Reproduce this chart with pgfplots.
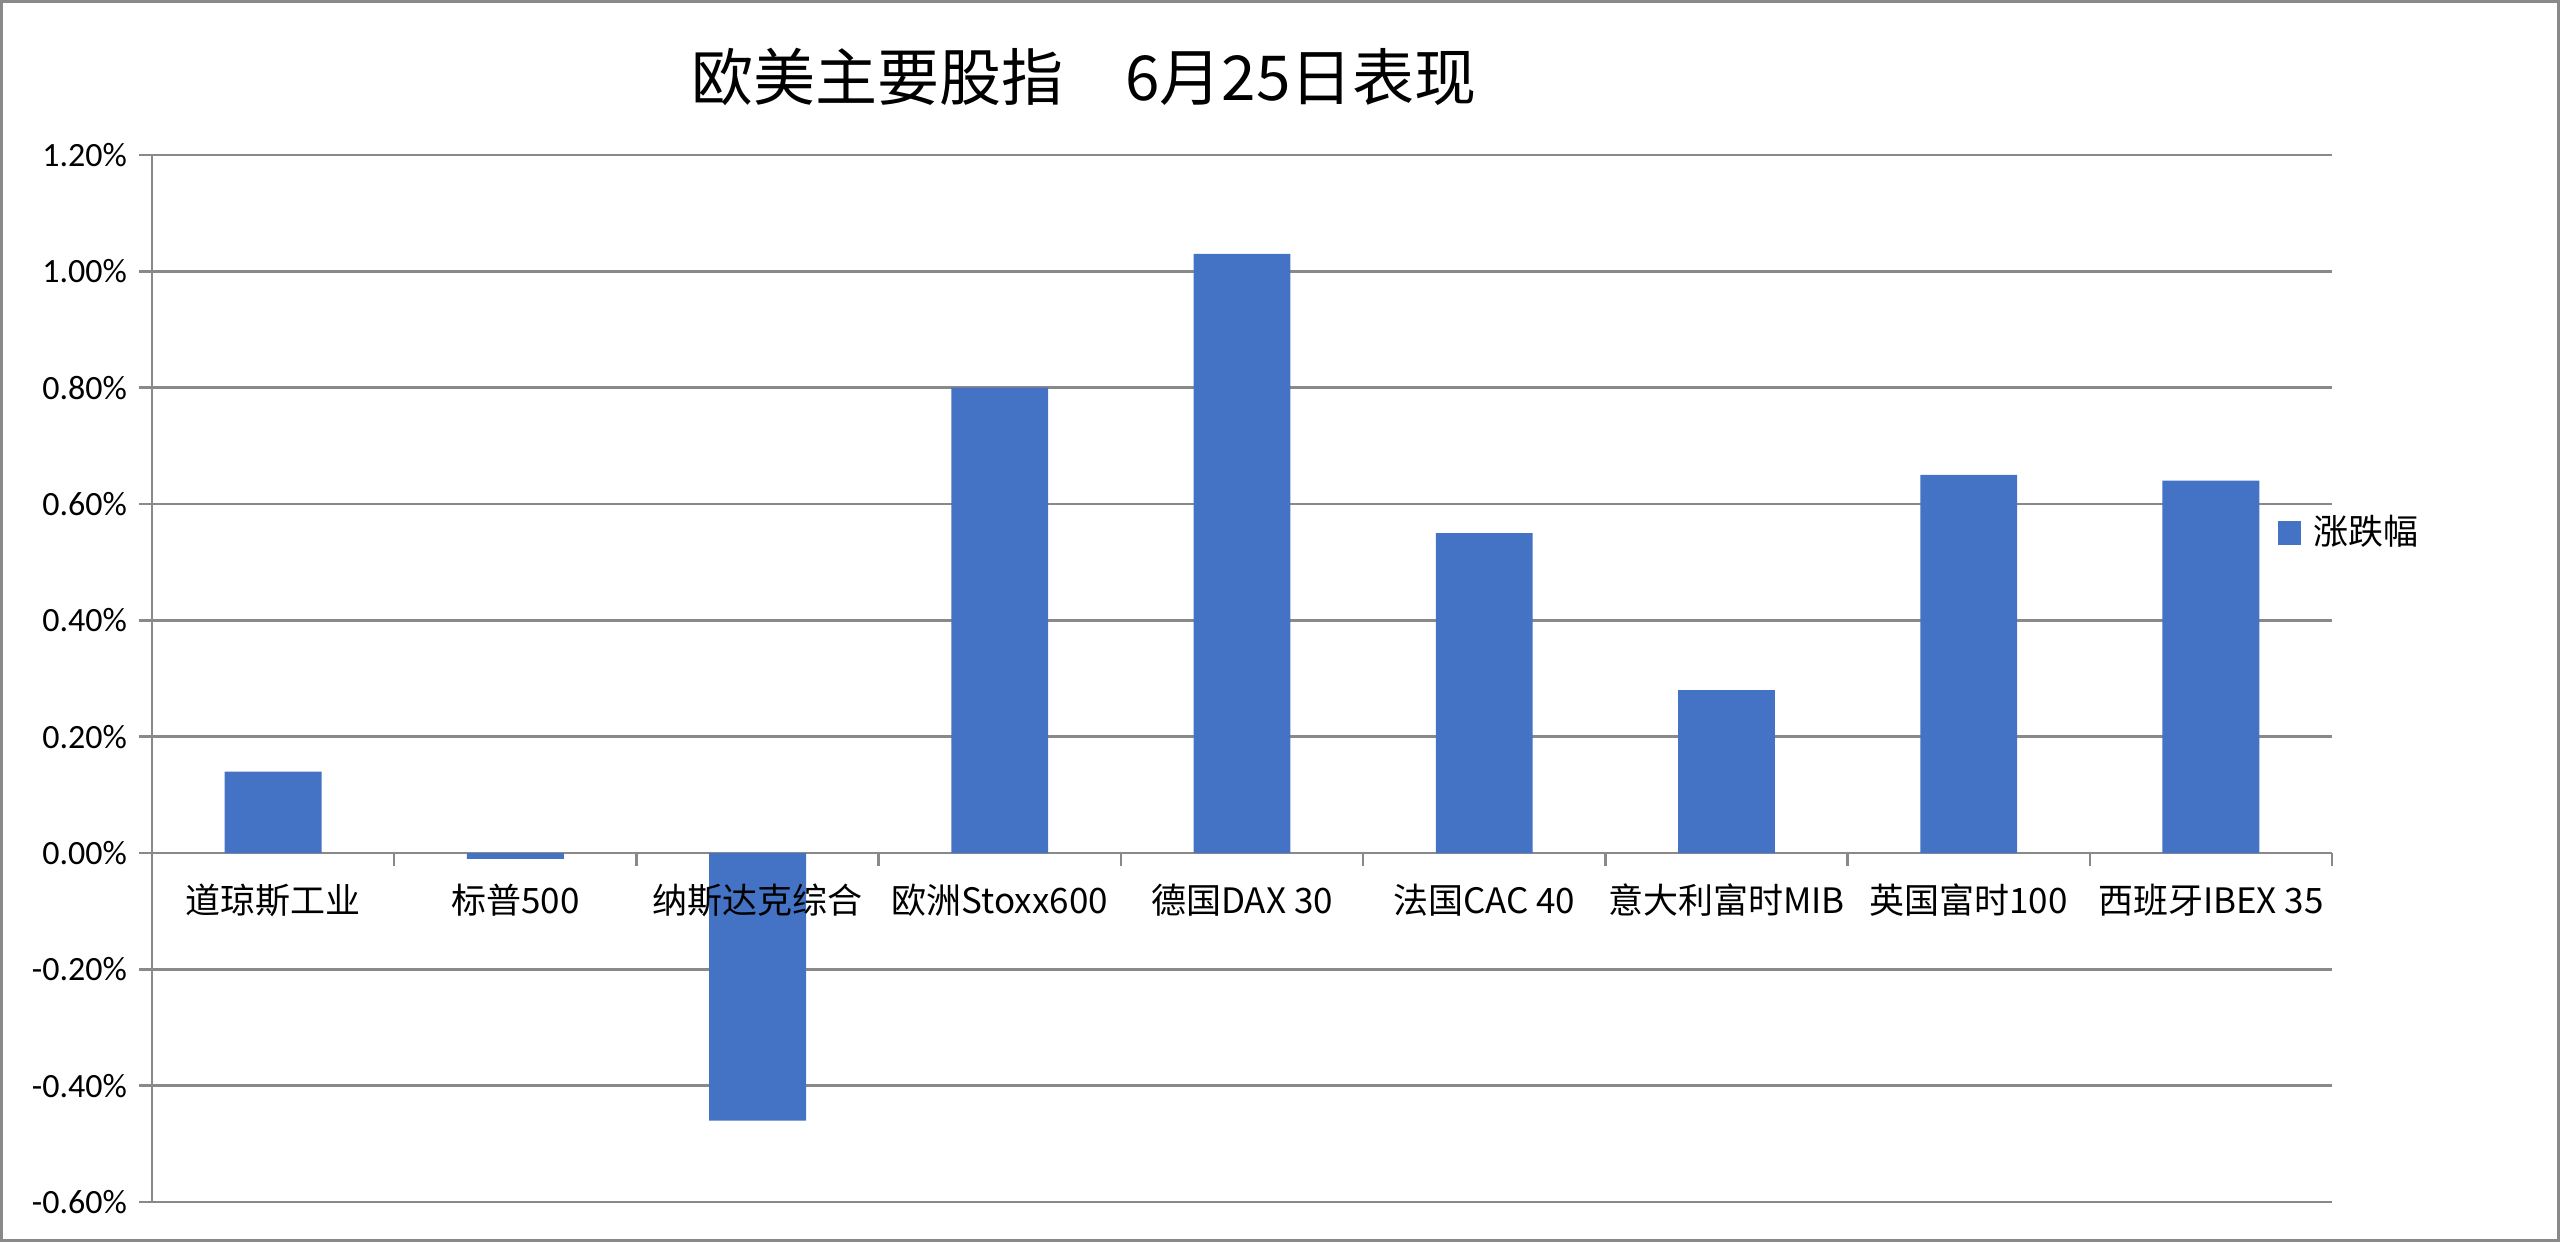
\documentclass[border=0pt]{standalone}
\usepackage{pgfplots}
\pgfplotsset{compat=1.18}
\usepackage{fontspec}
\setmainfont{Carlito}
\newfontfamily\cjk{Noto Sans CJK SC}
\definecolor{barblue}{HTML}{4472C4}
\definecolor{gridgray}{HTML}{898989}
\pgfplotsset{
  myframe/.style={
    at={(38bp,10bp)}, anchor=south west,
    scale only axis, width=545bp, height=261.75bp,
    xmin=-0.5, xmax=8.5, ymin=-0.6, ymax=1.2,
  }
}
\begin{document}
\begin{tikzpicture}[x=1bp,y=1bp]
\path[use as bounding box] (0,0) rectangle (640,310.5);
\draw[gridgray, line width=0.75bp] (0.375,0.375) rectangle (639.625,310.125);
\begin{axis}[
  myframe,
  axis x line*=middle, axis y line*=left,
  axis line style={gridgray, line width=0.6bp},
  ybar, bar width=0.4,
  ymajorgrids, grid style={gridgray, line width=0.6bp},
  ytick={-0.6,-0.4,-0.2,0,0.2,0.4,0.6,0.8,1.0,1.2},
  yticklabels={-0.60\%,-0.40\%,-0.20\%,0.00\%,0.20\%,0.40\%,0.60\%,0.80\%,1.00\%,1.20\%},
  ytick style={gridgray, line width=0.6bp},
  tick align=outside, major tick length=3.25bp,
  yticklabel style={font=\fontsize{8.5bp}{10bp}\selectfont, xshift=0.5bp},
  xtick={-0.5,0.5,1.5,2.5,3.5,4.5,5.5,6.5,7.5,8.5},
  xticklabels={},
  xtick style={draw=gridgray, line width=0.6bp},
  title={欧美主要股指　6月25日表现},
  title style={at={(0.4275,1)}, anchor=center, yshift=13.5bp, font=\cjk\fontsize{15.5bp}{17bp}\selectfont},
  legend style={at={(0.975,0.639)}, anchor=west, draw=none, fill=none, inner sep=0pt, font=\cjk\fontsize{8.75bp}{10bp}\selectfont},
  legend image code/.code={\fill[barblue] (0bp,-2.9bp) rectangle (5.75bp,2.9bp);},
]
\addplot[fill=barblue, draw=none] coordinates {(0,0.14) (1,-0.01) (2,-0.46) (3,0.80) (4,1.03) (5,0.55) (6,0.28) (7,0.65) (8,0.64)};
\addlegendentry{\hspace{1bp}涨跌幅}
\end{axis}
\begin{axis}[
  myframe,
  axis x line*=middle, axis y line=none,
  axis line style={draw=none},
  ytick=\empty,
  xtick={0,1,2,3,4,5,6,7,8},
  xticklabels={道琼斯工业,标普500,纳斯达克综合,欧洲Stoxx600,德国DAX 30,法国CAC 40,意大利富时MIB,英国富时100,西班牙IBEX 35},
  xtick style={draw=none},
  tick align=outside, major tick length=3.25bp,
  xticklabel style={font=\cjk\fontsize{8.75bp}{10bp}\selectfont, yshift=-1bp},
]
\end{axis}
\end{tikzpicture}
\end{document}
